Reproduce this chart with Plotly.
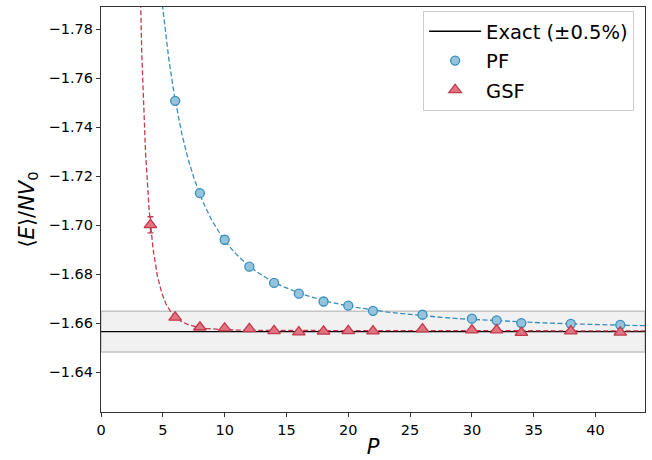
import numpy as np
import plotly.graph_objects as go

# ---- data ----
P_pf = [6, 8, 10, 12, 14, 16, 18, 20, 22, 26, 30, 32, 34, 38, 42]
E_pf = [-1.7507, -1.7130, -1.6940, -1.6830, -1.6764, -1.6720, -1.6688, -1.6671,
        -1.6650, -1.6634, -1.6618, -1.6611, -1.6600, -1.6597, -1.6593]
err_pf = [0.0008, 0.0006, 0.0005, 0.0005, 0.0004, 0.0004, 0.0004, 0.0004,
          0.0004, 0.0004, 0.0004, 0.0004, 0.0004, 0.0004, 0.0004]

P_gsf = [4, 6, 8, 10, 12, 14, 16, 18, 20, 22, 26, 30, 32, 34, 38, 42]
E_gsf = [-1.7001, -1.6623, -1.6583, -1.6579, -1.6576, -1.6568, -1.6563, -1.6566,
         -1.6568, -1.6567, -1.6575, -1.6571, -1.6571, -1.6561, -1.6567, -1.6562]
err_gsf = [0.0033, 0.0006, 0.0005, 0.0005, 0.0004, 0.0004, 0.0004, 0.0004,
           0.0004, 0.0004, 0.0004, 0.0004, 0.0004, 0.0004, 0.0004, 0.0004]

E_exact = -1.6565
band_frac = 0.005

x_range = [0, 44]
y_range = [-1.6237, -1.7890]   # reversed axis (more negative on top)

PF_EDGE, PF_FILL = "#3a8ebc", "#93c4dc"
GSF_EDGE, GSF_FILL = "#c23a4c", "#e07480"


def fit_power(P, E):
    P = np.asarray(P, float)
    E = np.asarray(E, float)
    best = None
    for c in np.linspace(0.3, 8.0, 771):
        A = np.vstack([np.ones_like(P), P ** -c]).T
        coef, *_ = np.linalg.lstsq(A, E, rcond=None)
        r = np.sum((A @ coef - E) ** 2)
        if best is None or r < best[0]:
            best = (r, c, coef)
    _, c, (a, b) = best
    return lambda p: a + b * p ** -c


Pc = np.linspace(1.0, x_range[1], 3000)
f_pf = fit_power(P_pf, E_pf)
f_gsf = fit_power(P_gsf, E_gsf)

fig = go.Figure()

# band and exact line
lo, hi = E_exact * (1 + band_frac), E_exact * (1 - band_frac)
fig.add_shape(type="rect", xref="paper", x0=0, x1=1, yref="y", y0=lo, y1=hi,
              fillcolor="#f1f1f1", line=dict(color="#c4c4c4", width=1.5), layer="below")
fig.add_shape(type="line", xref="paper", x0=0, x1=1, yref="y", y0=E_exact, y1=E_exact,
              line=dict(color="black", width=1.3), layer="below")

# fit curves
fig.add_trace(go.Scatter(x=Pc, y=f_pf(Pc), mode="lines", showlegend=False,
                         line=dict(color=PF_EDGE, width=1.3, dash="5px,2.5px")))
fig.add_trace(go.Scatter(x=Pc, y=f_gsf(Pc), mode="lines", showlegend=False,
                         line=dict(color=GSF_EDGE, width=1.3, dash="5px,2.5px")))

# legend entry for exact
fig.add_trace(go.Scatter(x=[None], y=[None], mode="lines", name="Exact (±0.5%)",
                         legendgroup="a", line=dict(color="black", width=1.5)))

fig.add_trace(go.Scatter(
    x=P_pf, y=E_pf, mode="markers", name="PF", legendgroup="b",
    error_y=dict(type="data", array=err_pf, color=PF_EDGE, thickness=1.3, width=3),
    marker=dict(symbol="circle", size=9, color=PF_FILL, line=dict(color=PF_EDGE, width=1.3))))
fig.add_trace(go.Scatter(
    x=P_gsf, y=E_gsf, mode="markers", name="GSF", legendgroup="c",
    error_y=dict(type="data", array=err_gsf, color=GSF_EDGE, thickness=1.3, width=3),
    marker=dict(symbol="triangle-up", size=11, color=GSF_FILL, line=dict(color=GSF_EDGE, width=1.3))))

axis_common = dict(showline=True, linecolor="#333333", linewidth=1.2, mirror=True,
                   ticks="outside", ticklen=4, tickwidth=1, tickcolor="#333333",
                   showgrid=False, zeroline=False, automargin=False,
                   tickfont=dict(family="DejaVu Sans", size=14.5, color="black"))

fig.update_layout(
    width=652, height=460,
    margin=dict(l=101, r=7, t=7, b=48, autoexpand=False),
    paper_bgcolor="white", plot_bgcolor="white",
    font=dict(family="DejaVu Sans", color="black"),
    xaxis=dict(range=x_range, dtick=5, tick0=0,
               title=dict(text="<i>P</i>", font=dict(size=21), standoff=2), **axis_common),
    yaxis=dict(range=y_range, dtick=0.02, tick0=-1.64, tickformat=".2f",
               title=dict(text="⟨<i>E</i>⟩/<i>NV</i><sub>0</sub>", font=dict(size=21), standoff=8),
               **axis_common),
    legend=dict(x=0.98, xanchor="right", y=0.99, yanchor="top",
                bgcolor="rgba(255,255,255,0.85)", bordercolor="#cccccc", borderwidth=1,
                font=dict(family="DejaVu Sans", size=19.5), itemwidth=52, tracegroupgap=1),
)

fig.write_html("out.html", config={"displayModeBar": False},
               post_script="document.body.style.margin='0';document.body.style.overflow='hidden';")
